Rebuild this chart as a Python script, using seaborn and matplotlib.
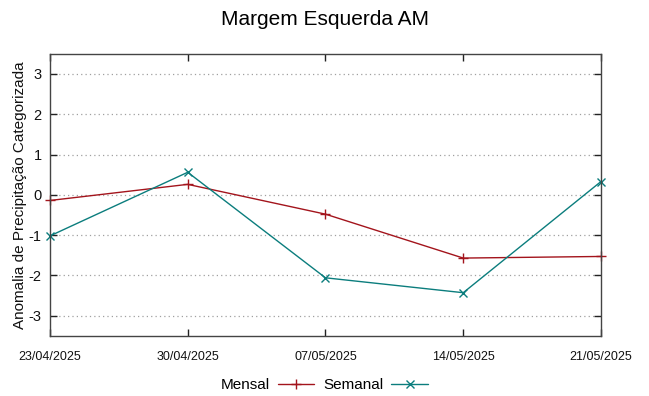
import pandas as pd
import matplotlib
matplotlib.use("Agg")
import matplotlib.pyplot as plt
import matplotlib.dates as mdates
import seaborn as sns

# Data
datas = ["2025-04-23", "2025-04-30", "2025-05-07", "2025-05-14", "2025-05-21"]
mensal = [-0.14, 0.26, -0.48, -1.57, -1.53]
semanal = [-1.02, 0.56, -2.06, -2.43, 0.33]
y_ticks = [-3, -2, -1, 0, 1, 2, 3]

df = pd.DataFrame({"Data": pd.to_datetime(datas), "Mensal": mensal, "Semanal": semanal})

sns.set_style("ticks")
plt.rcParams["font.family"] = ["Liberation Sans", "DejaVu Sans"]
plt.rcParams["axes.unicode_minus"] = False
plt.rcParams["text.color"] = "black"

fig = plt.figure(figsize=(6.49, 3.96), dpi=100)
ax = fig.add_axes([0.077, 0.152, 0.849, 0.712])

cor_m = "#a3141c"
cor_s = "#0b7d7d"
sns.lineplot(data=df, x="Data", y="Mensal", ax=ax, color=cor_m, marker="+",
             markersize=7, markeredgewidth=1, markeredgecolor=cor_m,
             linewidth=1.0, label="Mensal")
sns.lineplot(data=df, x="Data", y="Semanal", ax=ax, color=cor_s, marker="x",
             markersize=5.5, markeredgewidth=1, markeredgecolor=cor_s,
             linewidth=1.0, label="Semanal")
for ln in ax.lines:
    ln.set_clip_on(False)

ax.set_xlim(df["Data"].iloc[0], df["Data"].iloc[-1])
ax.set_ylim(-3.5, 3.5)
ax.set_yticks(y_ticks)
ax.set_xticks(df["Data"])
ax.xaxis.set_major_formatter(mdates.DateFormatter("%d/%m/%Y"))

ax.grid(axis="y", color="#a0a0a0", linestyle=(0, (1, 2.5)), linewidth=0.9)
for s in ax.spines.values():
    s.set_visible(True)
    s.set_color("#444444")
    s.set_linewidth(1.0)
ax.tick_params(direction="in", length=5, width=1, top=True, right=True,
               color="#222222", labelcolor="#111111")
ax.tick_params(axis="x", labelsize=9, pad=11)
ax.tick_params(axis="y", labelsize=10.5, pad=6)

ax.set_xlabel("")
ax.set_ylabel("Anomalia de Precipitação Categorizada", fontsize=11, labelpad=1,
              color="#111111")
ax.set_title("Margem Esquerda AM", fontsize=15, pad=21, color="black")

ax.get_legend().remove()
h, l = ax.get_legend_handles_labels()
fig.legend(h, l, loc="lower center", bbox_to_anchor=(0.5, -0.025), ncol=2, frameon=False,
           markerfirst=False, fontsize=11, handlelength=2.4, columnspacing=0.6,
           handletextpad=0.5)

fig.savefig("out.png", dpi=100)
